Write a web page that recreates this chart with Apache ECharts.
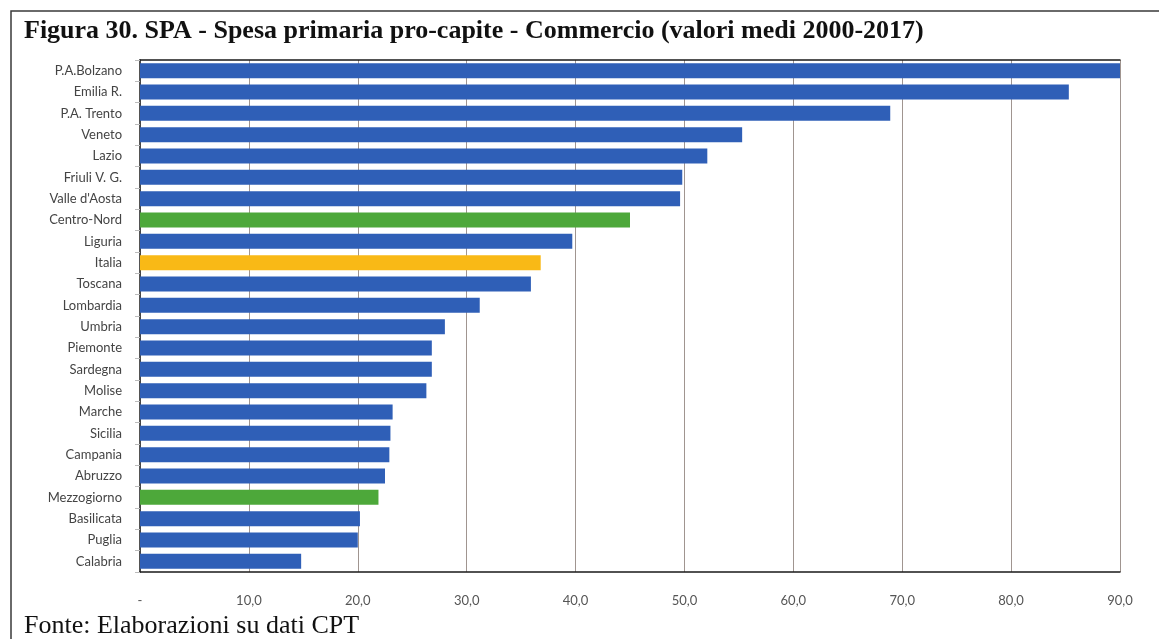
<!DOCTYPE html>
<html>
<head>
<meta charset="utf-8">
<script src="https://cdn.jsdelivr.net/npm/echarts@6/dist/echarts.min.js"></script>
<style>
html,body{margin:0;padding:0;background:#fff;}
#chart{width:1159px;height:639px;}
</style>
</head>
<body>
<div id="chart"></div>
<script>
var titleText = 'Figura 30. SPA - Spesa primaria pro-capite - Commercio (valori medi 2000-2017)';
var footerText = 'Fonte: Elaborazioni su dati CPT';
var categories = ['P.A.Bolzano','Emilia R.','P.A. Trento','Veneto','Lazio','Friuli V. G.',"Valle d'Aosta",'Centro-Nord','Liguria','Italia','Toscana','Lombardia','Umbria','Piemonte','Sardegna','Molise','Marche','Sicilia','Campania','Abruzzo','Mezzogiorno','Basilicata','Puglia','Calabria'];
var values = [90.0,85.3,68.9,55.3,52.1,49.8,49.6,45.0,39.7,36.8,35.9,31.2,28.0,26.8,26.8,26.3,23.2,23.0,22.9,22.5,21.9,20.2,20.0,14.8];
var groups = ['r','r','r','r','r','r','r','a','r','i','r','r','r','r','r','r','r','r','r','r','a','r','r','r'];
var xTickLabels = ['-','10,0','20,0','30,0','40,0','50,0','60,0','70,0','80,0','90,0'];
var groupColors = {r:'#2F5FB7', a:'#4DA83A', i:'#F9B916'};

var chart = echarts.init(document.getElementById('chart'), null, {renderer:'canvas'});
var option = {
  animation:false,
  backgroundColor:'#fff',
  graphic:[
    {type:'rect', shape:{x:11, y:11, width:1200, height:700}, style:{fill:'none', stroke:'#3a3a3a', lineWidth:1.5}, z:-1},
    {type:'text', left:24, top:18, style:{text:titleText, font:'bold 26px "Liberation Serif", "Times New Roman", serif', fill:'#111'}},
    {type:'text', left:24, top:613, style:{text:footerText, font:'26px "Liberation Serif", "Times New Roman", serif', fill:'#111'}}
  ],
  grid:{left:140, right:39, top:60, bottom:67, containLabel:false},
  xAxis:[{
    type:'value', min:0, max:90, interval:10,
    axisLine:{show:true, lineStyle:{color:'#1a1a1a', width:1.5}},
    axisTick:{show:false},
    splitLine:{show:true, lineStyle:{color:'#a09590', width:1}},
    axisLabel:{color:'#555', fontFamily:'Lato', fontSize:13, margin:22,
      formatter:function(v){ return xTickLabels[Math.round(v/10)]; }}
  },{
    type:'value', min:0, max:90, interval:10, position:'top',
    axisLine:{show:true, lineStyle:{color:'#1a1a1a', width:1.5}},
    axisTick:{show:false}, axisLabel:{show:false}, splitLine:{show:false}
  }],
  yAxis:[{
    type:'category', data:categories, inverse:true,
    axisLine:{show:true, lineStyle:{color:'#cfcfcf'}},
    axisTick:{show:true, length:5, lineStyle:{color:'#bbb'}},
    axisLabel:{color:'#444', fontFamily:'Lato', fontSize:13, margin:18}
  },{
    type:'category', data:categories, inverse:true, position:'right',
    axisLine:{show:true, lineStyle:{color:'#1a1a1a', width:1.5}},
    axisTick:{show:false}, axisLabel:{show:false}
  }],
  series:[{
    type:'bar',
    data:values.map(function(v,i){ return {value:v, itemStyle:{color:groupColors[groups[i]]}}; }),
    barCategoryGap:'30%'
  }]
};
chart.setOption(option);
</script>
</body>
</html>
